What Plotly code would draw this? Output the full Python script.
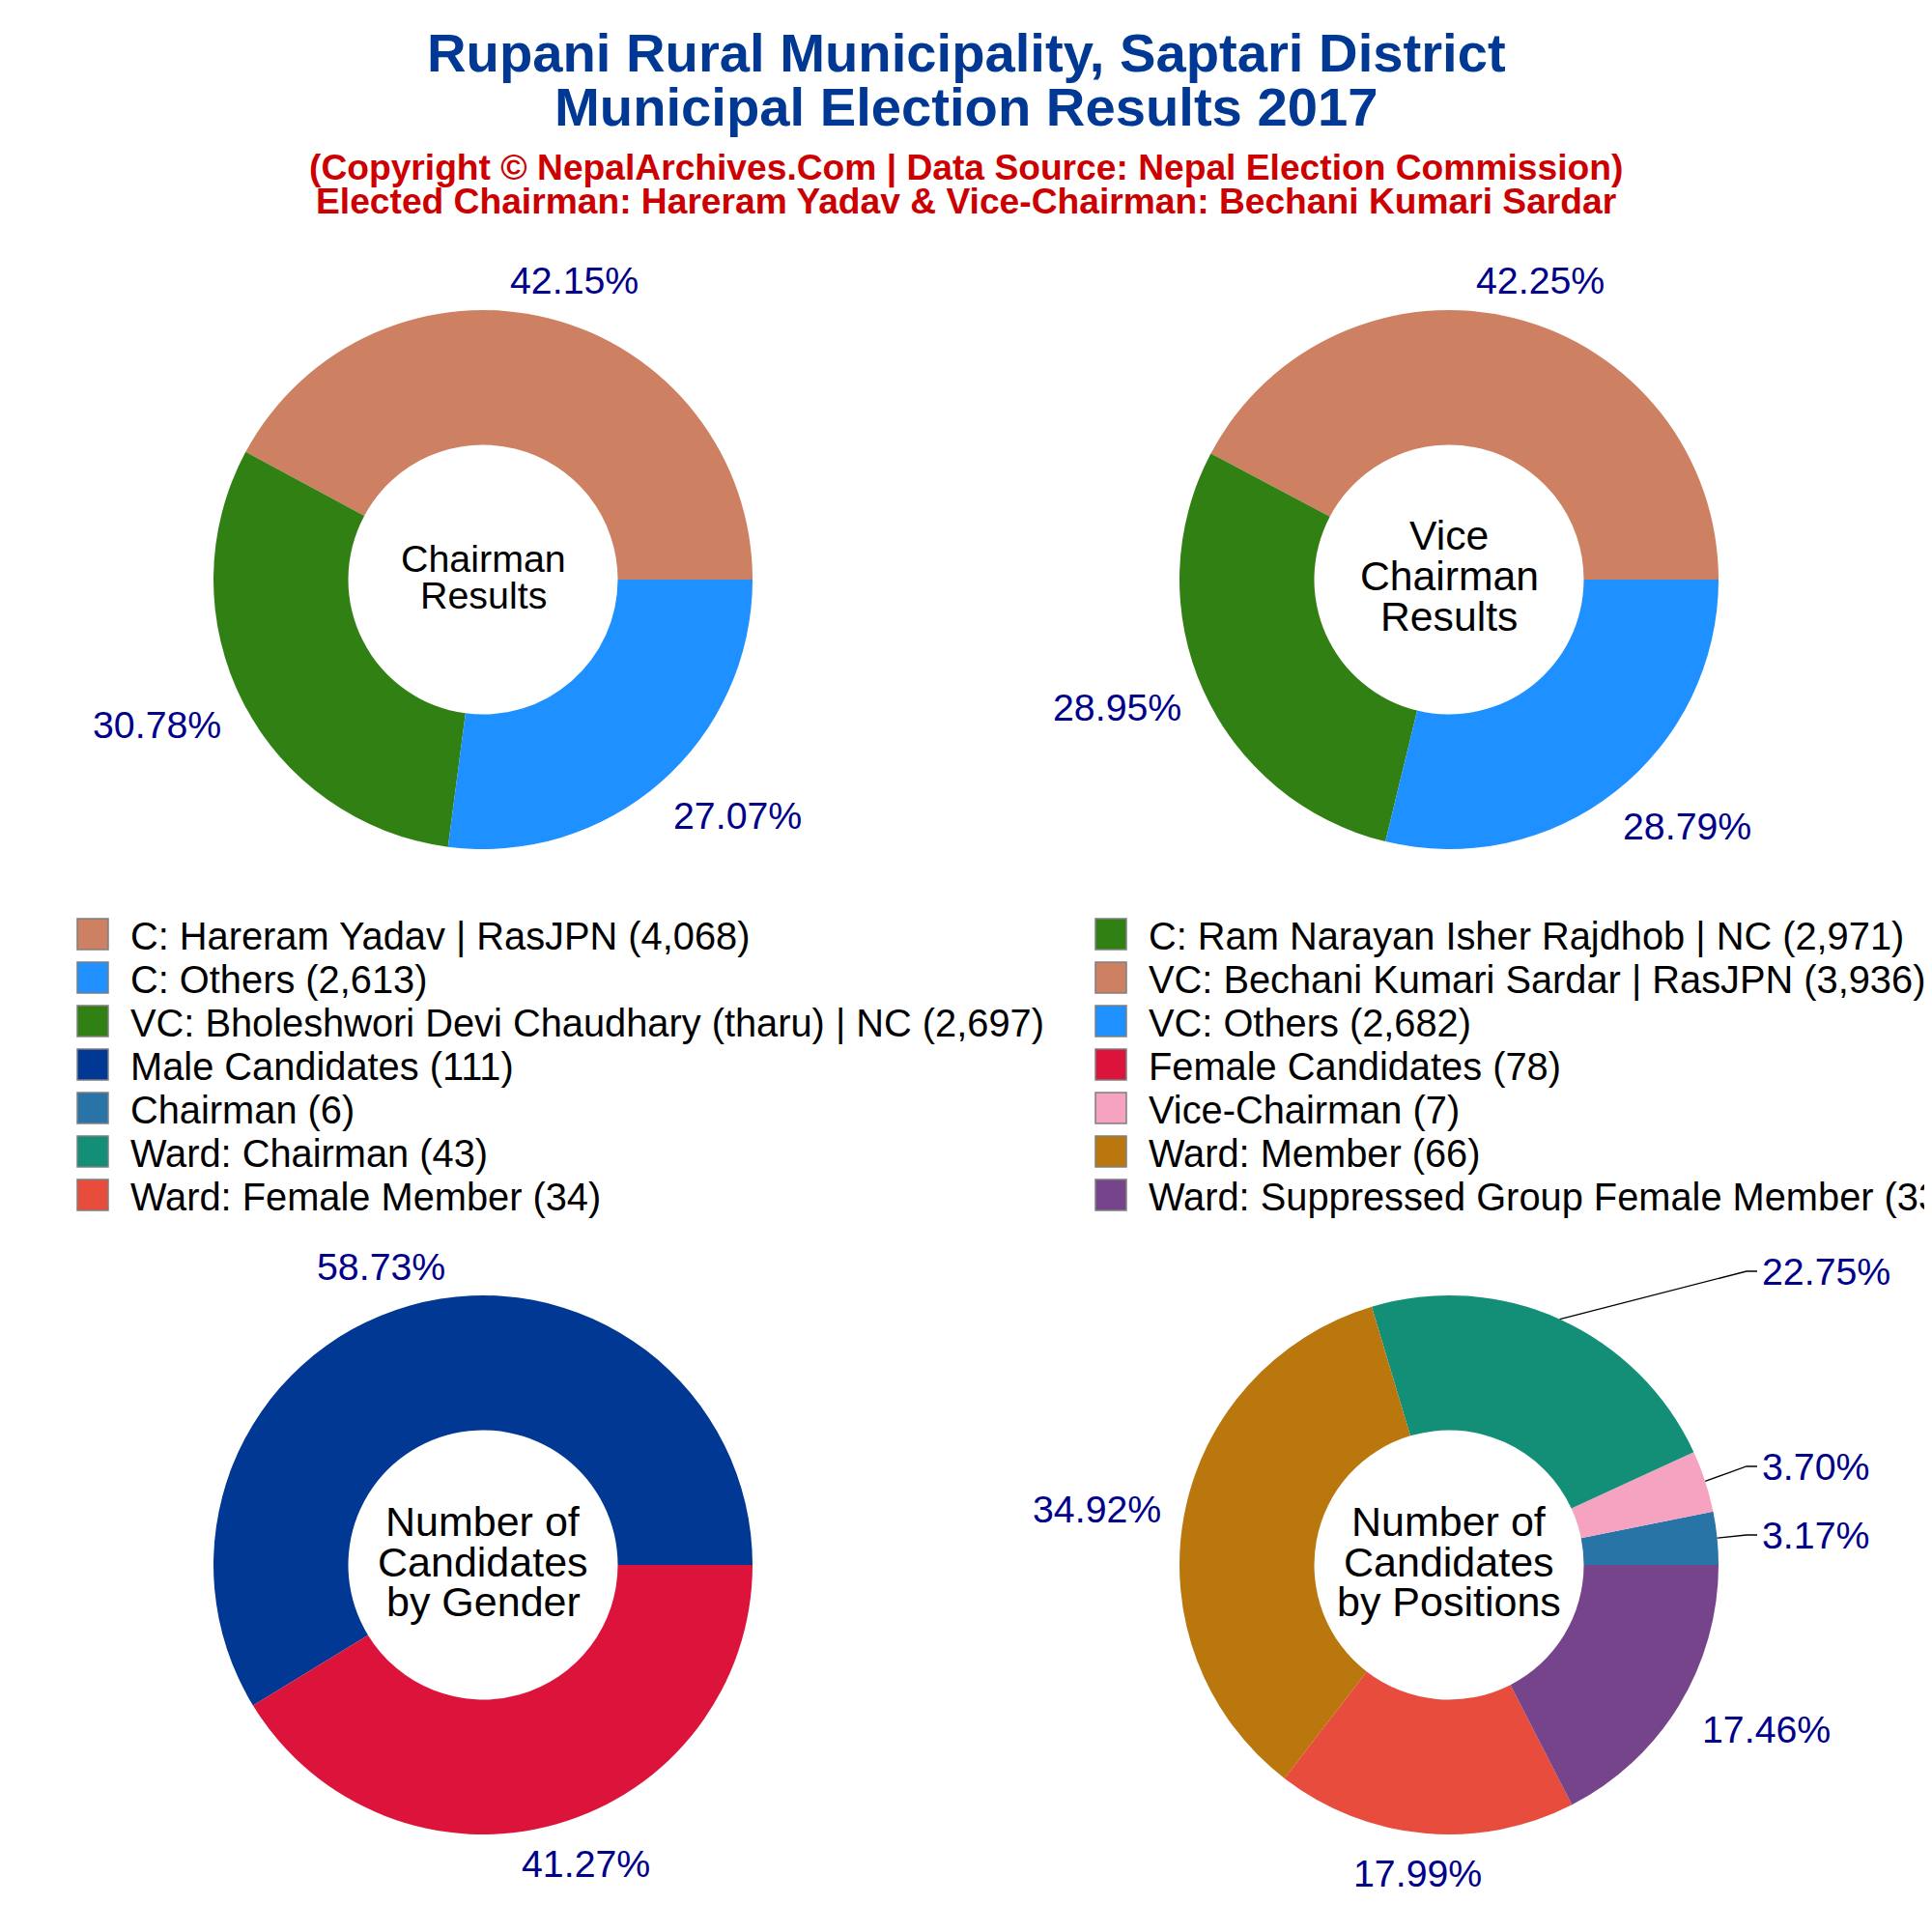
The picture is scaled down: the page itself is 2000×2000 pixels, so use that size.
import math
import plotly.graph_objects as go

# Data
chairman_labels = ['C: Hareram Yadav | RasJPN', 'C: Ram Narayan Isher Rajdhob | NC', 'C: Others']
chairman_votes = [4068, 2971, 2613]
vice_labels = ['VC: Bechani Kumari Sardar | RasJPN', 'VC: Bholeshwori Devi Chaudhary (tharu) | NC', 'VC: Others']
vice_votes = [3936, 2697, 2682]
gender_labels = ['Male Candidates', 'Female Candidates']
gender_counts = [111, 78]
position_labels = ['Chairman', 'Vice-Chairman', 'Ward: Chairman', 'Ward: Member',
                   'Ward: Female Member', 'Ward: Suppressed Group Female Member']
position_counts = [6, 7, 43, 66, 34, 33]

result_colors = ['#CD8162', '#308014', '#1E90FF']
gender_colors = ['#003893', '#DC143C']
position_colors = ['#2874A6', '#F5A3C0', '#148F77', '#B9770E', '#E74C3C', '#76448A']

FONT = 'Liberation Sans'
W = H = 2000
R = 279
PAGE = 8  # body margin of the page shifts everything

fig = go.Figure()


def px(x):
    return (x - PAGE) / W


def py(y):
    return 1 - (y - PAGE) / H


def text(s, x, y, size, color='black', bold=False, anchor='center'):
    fig.add_annotation(text=f'<b>{s}</b>' if bold else s, x=px(x), y=py(y),
                       xref='paper', yref='paper', xanchor=anchor, yanchor='middle', showarrow=False,
                       font=dict(family=FONT, size=size, color=color))


def leader(values, i, cx, cy, label_y):
    # thin line from the middle of the slice's rim to a short stub next to the label
    mid = 2 * math.pi * (sum(values[:i]) + values[i] / 2) / sum(values)
    x0, y0 = cx + R * math.cos(mid), cy - R * math.sin(mid)
    path = f'M {px(x0)} {py(y0)} L {px(cx + 308)} {py(label_y)} L {px(cx + 319)} {py(label_y)}'
    fig.add_shape(type='path', path=path, xref='paper', yref='paper', line=dict(color='black', width=1.3))


def pie(labels, values, colors, cx, cy, offsets, leaders=()):
    # ccw pies: plotly puts the first slice clockwise of rotation, so back it up
    rotation = 90 - 360 * values[0] / sum(values)
    fig.add_trace(go.Pie(
        labels=labels, values=values, sort=False, direction='counterclockwise',
        rotation=rotation, hole=0.5, marker=dict(colors=colors, line=dict(width=0)),
        textinfo='none', showlegend=False,
        domain=dict(x=[px(cx - R), px(cx + R)], y=[py(cy + R), py(cy - R)]),
    ))
    for i, (dx, dy) in enumerate(offsets):
        share = f'{100 * values[i] / sum(values):.2f}%'
        if i in leaders:
            text(share, cx + 322, cy + dy, 39.3, '#00008B', anchor='left')
            leader(values, i, cx, cy, cy + dy)
        else:
            text(share, cx + dx, cy + dy, 39.3, '#00008B')


# label offsets from each pie centre, in px
pie(chairman_labels, chairman_votes, result_colors, 500, 600,
    [(94, -310), (-338, 150), (263, 244)])
pie(vice_labels, vice_votes, result_colors, 1500, 600,
    [(94, -310), (-344, 132), (246, 255)])
pie(gender_labels, gender_counts, gender_colors, 500, 1620,
    [(-106, -309), (106, 309)])
pie(position_labels, position_counts, position_colors, 1500, 1620,
    [(379, -31), (380, -102), (390, -304), (-365, -58), (-33, 319), (328, 170)], leaders=(0, 1, 2))

# Heading
text('Rupani Rural Municipality, Saptari District', 1000, 55, 56.2, '#003893', True)
text('Municipal Election Results 2017', 1000, 111, 56.2, '#003893', True)
text('(Copyright © NepalArchives.Com | Data Source: Nepal Election Commission)', 1000, 173, 37.2, '#CC0000', True)
text('Elected Chairman: Hareram Yadav &amp; Vice-Chairman: Bechani Kumari Sardar', 1000, 208, 37.2, '#CC0000', True)

# Text in the holes
for lines, cx, ys, size in [(['Chairman', 'Results'], 500, [578, 616], 39.4),
                            (['Vice', 'Chairman', 'Results'], 1500, [554, 596, 638], 42.7),
                            (['Number of', 'Candidates', 'by Gender'], 500, [1575, 1617, 1658], 43),
                            (['Number of', 'Candidates', 'by Positions'], 1500, [1575, 1617, 1658], 43)]:
    for line, y in zip(lines, ys):
        text(line, cx, y, size)

# Legend drawn by hand, two columns, big swatches
entries = []
for labels, values, colors in [(chairman_labels, chairman_votes, result_colors),
                               (vice_labels, vice_votes, result_colors),
                               (gender_labels, gender_counts, gender_colors),
                               (position_labels, position_counts, position_colors)]:
    entries += [(f'{l} ({v:,})', c) for l, v, c in zip(labels, values, colors)]

for i, (label, color) in enumerate(entries):
    col = i % 2
    y = 967 + 45 * (i // 2)
    x0 = 80 + col * 1054
    fig.add_shape(type='rect', xref='paper', yref='paper', x0=px(x0), x1=px(x0 + 32),
                  y0=py(y + 16), y1=py(y - 16), fillcolor=color,
                  line=dict(color='#7F7F7F', width=1.5))
    text(label, x0 + 53, y + 2, 39.8, anchor='left')

fig.update_layout(width=W, height=H, margin=dict(l=0, r=0, t=0, b=0),
                  paper_bgcolor='white', plot_bgcolor='white', font=dict(family=FONT))

fig.write_html("out.html")
